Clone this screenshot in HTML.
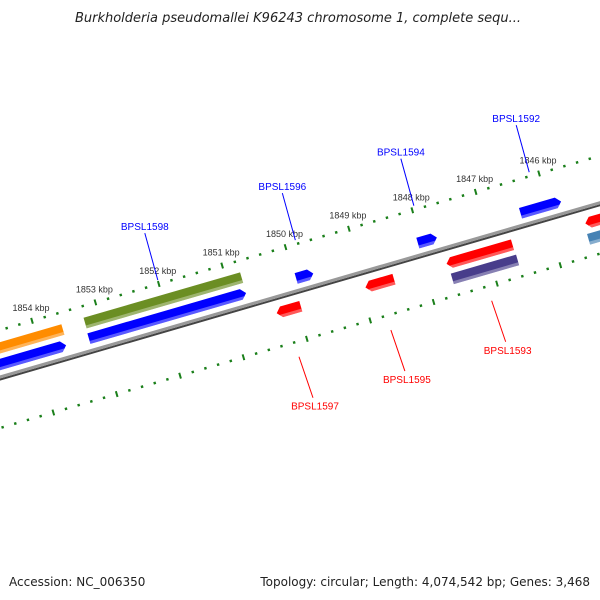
<!DOCTYPE html>
<html><head><meta charset="utf-8"><style>
html,body{margin:0;padding:0;background:#fff;}
svg{display:block;font-family:"Liberation Sans","DejaVu Sans",sans-serif;}
</style></head><body>
<svg id="map" width="600" height="600" viewBox="0 0 600 600">
<text x="298" y="22" text-anchor="middle" font-size="13" font-style="italic" fill="#222" style="font-family:'DejaVu Sans',sans-serif">Burkholderia pseudomallei K96243 chromosome 1, complete sequ...</text>
<g id="strip" transform="translate(0,378) rotate(-16.2)"></g>
<g id="labels"></g>
<text x="9" y="586" font-size="12" fill="#222" style="font-family:'DejaVu Sans',sans-serif">Accession: NC_006350</text>
<text x="590" y="586" text-anchor="end" font-size="12" fill="#222" style="font-family:'DejaVu Sans',sans-serif">Topology: circular; Length: 4,074,542 bp; Genes: 3,468</text>
</svg>
<script>
const majorTicks = [1854,1853,1852,1851,1850,1849,1848,1847,1846,1845];
const tickLabels = ["1854 kbp","1853 kbp","1852 kbp","1851 kbp","1850 kbp","1849 kbp","1848 kbp","1847 kbp","1846 kbp",""];
const geneStart = [1855.6,1855.6,1853.03,1853.04,1849.77,1850.2,1848.8,1847.85,1847.52,1847.5,1846.23,1845.33,1845.35];
const geneEnd   = [1853.38,1853.40,1850.56,1850.56,1849.50,1849.82,1848.35,1847.55,1846.48,1846.47,1845.59,1844.6,1844.5];
const geneStrand= [1,1,1,1,1,-1,-1,1,-1,-1,1,-1,-1];
const geneRow   = [2,1,2,1,1,1,1,1,1,2,1,1,2];
const geneArrow = [false,true,false,true,true,true,true,true,true,false,true,true,false];
const geneColor = ["#ff8c00","#0000ff","#6b8e23","#0000ff","#0000ff","#ff0000","#ff0000","#0000ff","#ff0000","#483d8b","#0000ff","#ff0000","#4682b4"];
const geneNames = ["BPSL1598","BPSL1597","BPSL1596","BPSL1595","BPSL1594","BPSL1593","BPSL1592"];
const geneNamePos = [1851.79,1850.06,1849.62,1848.61,1847.75,1847.02,1845.93];
const geneNameStrand = [1,-1,1,-1,1,-1,1];

const NS="http://www.w3.org/2000/svg";
const strip=document.getElementById('strip');
const labels=document.getElementById('labels');
const K=66, U0=33, TH=16.2*Math.PI/180, OUTER_SHIFT=13.7;
function u(p){return U0+(1854-p)*K;}
function scr(uu,v){return [uu*Math.cos(TH)+v*Math.sin(TH), 378-uu*Math.sin(TH)+v*Math.cos(TH)];}
function mk(tag,attrs,parent){const e=document.createElementNS(NS,tag);for(const k in attrs)e.setAttribute(k,attrs[k]);parent.appendChild(e);return e;}

// backbone
let bb=mk('line',{x1:-50,y1:1.5,x2:700,y2:1.5,stroke:'#444','stroke-width':2},strip);


let bb2=mk('line',{x1:-50,y1:-1,x2:700,y2:-1,stroke:'#999','stroke-width':3},strip);



// ticks
function ring(v,offset,shift,name){
  for(let i=0;i<=60;i++){
    const p=1856-i*0.2-offset;
    const major=Math.abs(Math.round((p+offset)*5)%5)===0;
    const uu=u(p)+shift;
    const len=major?6:2.5;
    const t=mk('line',{x1:uu,y1:v-len/2,x2:uu,y2:v+len/2,stroke:'#1a7f1a','stroke-width':major?2:2.4},strip);
    
    
  }
}
ring(-46,0,OUTER_SHIFT,'outer-ring');
ring(48,0.13,0,'inner-ring');

// tick labels
majorTicks.forEach((p,i)=>{
  if(!tickLabels[i])return;
  const s=scr(u(p)+OUTER_SHIFT,-46);
  const t=mk('text',{x:s[0]-1,y:s[1]-10,'text-anchor':'middle','font-size':9,fill:'#333'},labels);
  t.textContent=tickLabels[i];
  
  
});

// genes
const rowV={1:13,2:29};
geneStart.forEach((s,i)=>{
  const vc=geneStrand[i]>0?-rowV[geneRow[i]]:rowV[geneRow[i]]+2;
  const h=11, a=u(s), b=u(geneEnd[i]);
  const lo=Math.min(a,b), hi=Math.max(a,b);
  let pts;
  if(!geneArrow[i]) pts=[[lo,vc-h/2],[hi,vc-h/2],[hi,vc+h/2],[lo,vc+h/2]];
  else if(geneStrand[i]>0) pts=[[lo,vc-h/2],[hi-5,vc-h/2],[hi,vc],[hi-5,vc+h/2],[lo,vc+h/2]];
  else pts=[[lo+5,vc-h/2],[hi,vc-h/2],[hi,vc+h/2],[lo+5,vc+h/2],[lo,vc]];
  const g=mk('polygon',{points:pts.map(q=>q.join(',')).join(' '),fill:geneColor[i]},strip);
  
  
  const sh=mk('rect',{x:lo+(geneStrand[i]<0&&geneArrow[i]?3:0),y:vc+h/2-3,width:hi-lo-(geneArrow[i]?3:0),height:3,fill:'#fff',opacity:0.35},strip);
  
  
});

// gene name labels
geneNames.forEach((n,i)=>{
  const fwd=geneNameStrand[i]>0;
  const col=fwd?'#0000ff':'#ff0000';
  const a=fwd?scr(u(geneNamePos[i]),-50):scr(u(geneNamePos[i]),63);
  let x2,y2,tx,ty;
  if(fwd){x2=a[0]-13;y2=a[1]-47;tx=a[0]-13;ty=a[1]-50;}
  else{x2=a[0]+14;y2=a[1]+41;tx=a[0]+16;ty=a[1]+53;}
  const l=mk('line',{x1:a[0],y1:a[1],x2:x2,y2:y2,stroke:col,'stroke-width':1},labels);
  
  
  const t=mk('text',{x:tx,y:ty,'text-anchor':'middle','font-size':10,fill:col},labels);
  t.textContent=n;
  
  
});
</script>
</body></html>
